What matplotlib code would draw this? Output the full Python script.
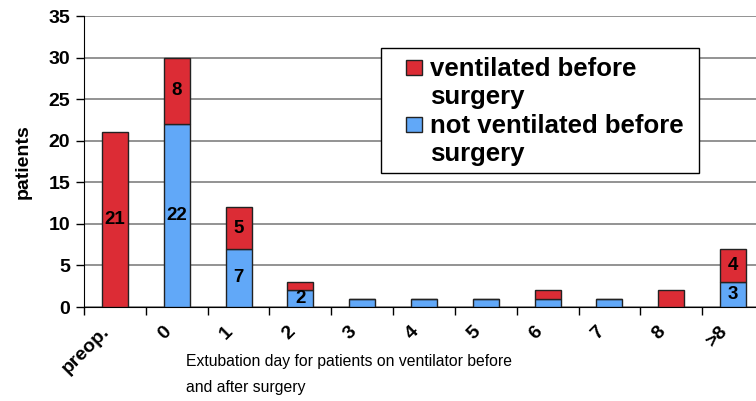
import matplotlib.pyplot as plt
import matplotlib.transforms as mtransforms
from matplotlib import font_manager
from matplotlib.patches import Rectangle
import numpy as np

plt.rcParams["font.family"] = ["Liberation Sans", "DejaVu Sans"]

categories = ["preop.", "0", "1", "2", "3", "4", "5", "6", "7", "8", ">8"]
not_ventilated = [0, 22, 7, 2, 1, 1, 1, 1, 1, 0, 3]
ventilated = [21, 8, 5, 1, 0, 0, 0, 1, 0, 2, 4]
# which segment values get a number printed inside
show_blue = [False, True, True, True, False, False, False, False, False, False, True]
show_red = [True, True, True, False, False, False, False, False, False, False, True]
legend_labels = ["ventilated before\nsurgery", "not ventilated before\nsurgery"]

red = "#DC2C35"
blue = "#61A8F8"
W, H = 756, 401

# narrow face for the axis caption if it is there
names = {f.name for f in font_manager.fontManager.ttflist}
if "Liberation Sans Narrow" in names:
    cap_font, cap_size = ["Liberation Sans Narrow"], 13.5
else:
    cap_font, cap_size = ["Liberation Sans"], 11.3

fig = plt.figure(figsize=(W / 100, H / 100), dpi=100)
ax = fig.add_axes([84 / W, 94 / H, 680 / W, 291 / H])

x = np.arange(len(categories))
w = 0.42
ax.bar(x, not_ventilated, w, color=blue, edgecolor="#222222", linewidth=1.0, zorder=3)
ax.bar(x, ventilated, w, bottom=not_ventilated, color=red, edgecolor="#222222",
       linewidth=1.0, zorder=3)

for i in range(len(categories)):
    if show_blue[i]:
        ax.text(x[i], not_ventilated[i] / 2, str(not_ventilated[i]), ha="center",
                va="center", fontsize=13.5, fontweight="bold", zorder=4)
    if show_red[i]:
        ax.text(x[i], not_ventilated[i] + ventilated[i] / 2, str(ventilated[i]),
                ha="center", va="center", fontsize=13.5, fontweight="bold", zorder=4)

ax.set_xlim(-0.5, len(categories) - 0.5)
ax.set_ylim(0, 35)
ax.set_yticks(range(0, 36, 5))
ax.yaxis.grid(True, color="#808080", linewidth=1.2, zorder=0)
ax.tick_params(axis="y", length=6, width=1, labelsize=14, direction="out", pad=4)
for t in ax.get_yticklabels():
    t.set_fontweight("bold")

ax.set_xticks(x)
ax.set_xticklabels(categories, rotation=45, ha="right", rotation_mode="anchor",
                   fontsize=14, fontweight="bold")
ax.tick_params(axis="x", length=0, pad=0)
shift = mtransforms.ScaledTranslation(-14 / 100, -16 / 100, fig.dpi_scale_trans)
for t in ax.get_xticklabels():
    t.set_transform(t.get_transform() + shift)
ax.set_xticks(np.arange(-0.5, len(categories), 1), minor=True)
ax.tick_params(axis="x", which="minor", length=6, width=1, direction="out")

ax.spines["top"].set_visible(False)
ax.spines["right"].set_visible(False)

ax.set_ylabel("patients", fontsize=14, fontweight="bold", labelpad=12)

fig.text(186 / W, 1 - 366 / H, "Extubation day for patients on ventilator before",
         fontsize=cap_size, family=cap_font, ha="left", va="baseline")
fig.text(186 / W, 1 - 392 / H, "and after surgery", fontsize=cap_size, family=cap_font,
         ha="left", va="baseline")

# legend box drawn by hand so the swatch sits on the first text line
fig.patches.append(Rectangle((381 / W, 1 - 173 / H), 318 / W, 125 / H,
                             transform=fig.transFigure, facecolor="white",
                             edgecolor="black", linewidth=1.0, zorder=5))
for lab, col, top in zip(legend_labels, [red, blue], [60, 117]):
    fig.patches.append(Rectangle((406 / W, 1 - (top + 15) / H), 16 / W, 15 / H,
                                 transform=fig.transFigure, facecolor=col,
                                 edgecolor="#222222", linewidth=1.0, zorder=6))
    fig.text(430 / W, 1 - (top - 3) / H, lab, fontsize=18.5, fontweight="bold",
             ha="left", va="top", linespacing=1.2, zorder=7)

fig.savefig("out.png", dpi=100)
